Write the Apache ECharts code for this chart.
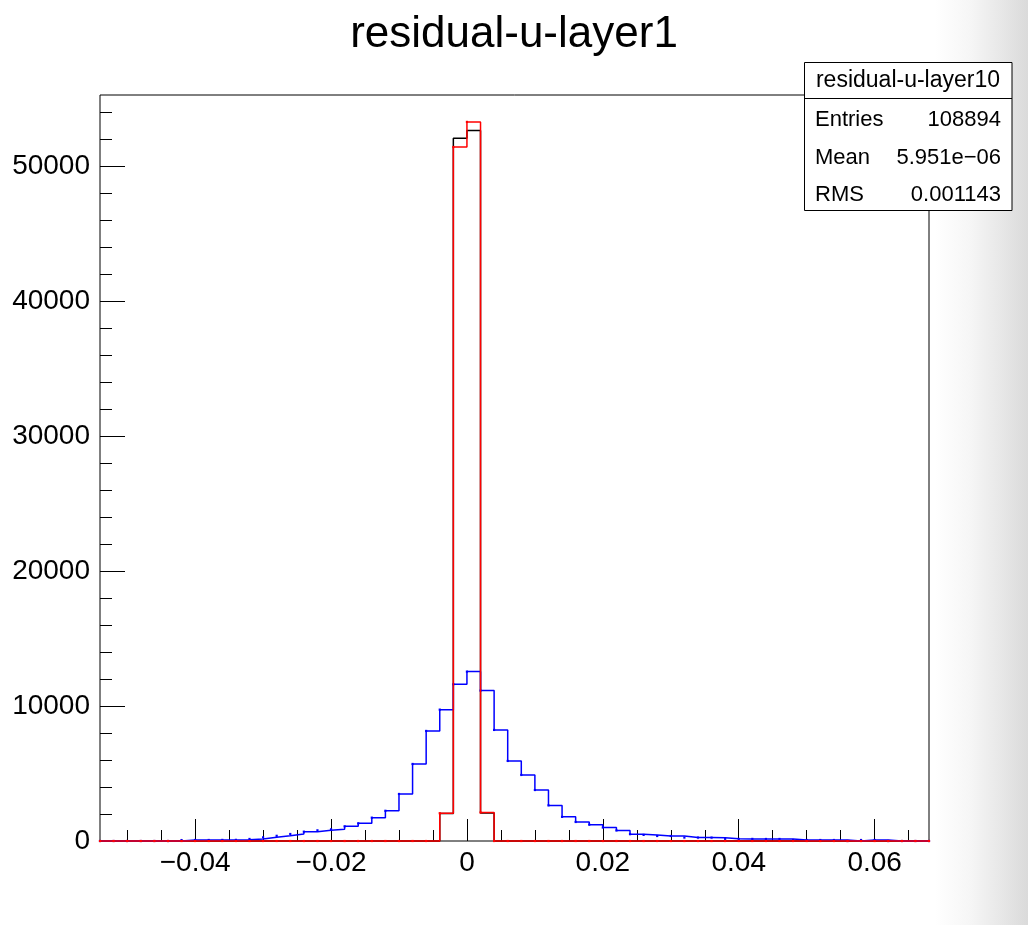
<!DOCTYPE html>
<html><head><meta charset="utf-8">
<script src="https://cdn.jsdelivr.net/npm/echarts@6/dist/echarts.min.js"></script>
<style>
html,body{margin:0;padding:0;background:#fff;overflow:hidden;}
#bg{position:absolute;left:0;top:0;width:1028px;height:925px;background:linear-gradient(to right,#fff 0px,#fff 935px,#f6f6f6 970px,#e8e8e8 1000px,#dadada 1028px);}
#c{position:absolute;left:0;top:0;width:1028px;height:925px;}
</style></head><body><div id="bg"></div><div id="c"></div>
<script>
// ---- data ----
const chartTitle = 'residual-u-layer1';
const binLow = -0.054;      // lower edge of first bin
const binWidth = 0.002;
// counts per bin, first bin starts at -0.054 (61 bins up to 0.068)
const blueCounts = [
  0, 0, 0, 0, 0, 0,
  70, 75, 75, 80, 85, 150, 270, 385, 519, 692,
  791, 865, 1088, 1311, 1730, 2240, 3487, 5712, 8160, 9740,
  11624, 12560, 11150, 8234, 5935, 4896, 3780, 2640, 1790, 1410,
  1210, 1000, 780, 505, 450, 371, 371, 255, 255, 250,
  160, 155, 155, 150, 150, 74, 74, 74, 74, 0,
  74, 74, 0, 0, 0
];
const blackCounts = [
  0, 0, 0, 0, 0, 0, 0, 0, 0, 0,
  0, 0, 0, 0, 0, 0, 0, 0, 0, 0,
  0, 0, 0, 0, 0, 2040, 52100, 52680, 2074, 0,
  0, 0, 0, 0, 0, 0, 0, 0, 0, 0,
  0, 0, 0, 0, 0, 0, 0, 0, 0, 0,
  0, 0, 0, 0, 0, 0, 0, 0, 0, 0, 0
];
const redCounts = [
  0, 0, 0, 0, 0, 0, 0, 0, 0, 0,
  0, 0, 0, 0, 0, 0, 0, 0, 0, 0,
  0, 0, 0, 0, 0, 2060, 51460, 53320, 2110, 0,
  0, 0, 0, 0, 0, 0, 0, 0, 0, 0,
  0, 0, 0, 0, 0, 0, 0, 0, 0, 0,
  0, 0, 0, 0, 0, 0, 0, 0, 0, 0, 0
];
const xMajorTicks = [-0.04, -0.02, 0, 0.02, 0.04, 0.06];
const xMinorTicks = [-0.05, -0.045, -0.035, -0.03, -0.025, -0.015, -0.01, -0.005,
  0.005, 0.01, 0.015, 0.025, 0.03, 0.035, 0.045, 0.05, 0.055, 0.065];
const yMajorTicks = [0, 10000, 20000, 30000, 40000, 50000];
const yMinorTicks = [2000, 4000, 6000, 8000, 12000, 14000, 16000, 18000, 22000, 24000,
  26000, 28000, 32000, 34000, 36000, 38000, 42000, 44000, 46000, 48000, 52000, 54000];
const statsName = 'residual-u-layer10';
const statsRows = [['Entries', '108894'], ['Mean', '5.951e\u221206'], ['RMS', '0.001143']];

// ---- build ----
const FONT = '"Liberation Sans", Arial, Helvetica, sans-serif';
const nBins = blueCounts.length;
const xMin = binLow, xMax = +(binLow + nBins * binWidth).toFixed(6);
const yMax = 1.05 * Math.max(...blackCounts);
function stepData(counts) {
  const d = [];
  for (let i = 0; i < counts.length; i++) d.push([+(binLow + i * binWidth).toFixed(6), counts[i]]);
  d.push([xMax, counts[counts.length - 1]]);
  return d;
}
function fmtX(v) {
  if (Math.abs(v) < 1e-12) return '0';
  return (v < 0 ? '\u2212' : '') + Math.abs(v).toFixed(2);
}
function fmtY(v) { return String(Math.round(v)); }
function histSeries(name, counts, color, z, dots) {
  return {
    name, type: 'line', step: 'end', data: stepData(counts),
    xAxisIndex: 0, yAxisIndex: 0, z, clip: false, animation: false,
    showSymbol: dots, showAllSymbol: true, symbol: 'rect', symbolSize: 2.2,
    itemStyle: { color }, lineStyle: { color, width: 1.5 }, emphasis: { disabled: true }
  };
}
const chart = echarts.init(document.getElementById('c'), null, { renderer: 'canvas' });
const tickStyle = { color: '#000', width: 1 };
const noLine = { show: false, onZero: false };
const option = {
  backgroundColor: 'transparent',
  animation: false,
  grid: [
    { left: 100, right: 99, top: 95, bottom: 84, show: true, borderColor: '#000', borderWidth: 1, backgroundColor: 'transparent' },
    { left: 100, right: 99, top: 95, bottom: 84 }
  ],
  xAxis: [
    { type: 'value', gridIndex: 0, min: xMin, max: xMax, position: 'bottom',
      axisLine: noLine, splitLine: { show: false },
      axisTick: { show: true, inside: true, length: 22, customValues: xMajorTicks, lineStyle: tickStyle },
      axisLabel: { customValues: xMajorTicks, formatter: fmtX, margin: 8, fontSize: 28, color: '#000', fontFamily: FONT } },
    { type: 'value', gridIndex: 1, min: xMin, max: xMax, position: 'bottom',
      axisLine: noLine, splitLine: { show: false },
      axisTick: { show: true, inside: true, length: 11, customValues: xMinorTicks, lineStyle: tickStyle },
      axisLabel: { show: false } }
  ],
  yAxis: [
    { type: 'value', gridIndex: 0, min: 0, max: yMax, position: 'left',
      axisLine: noLine, splitLine: { show: false },
      axisTick: { show: true, inside: true, length: 25, customValues: yMajorTicks, lineStyle: tickStyle },
      axisLabel: { customValues: yMajorTicks, formatter: fmtY, margin: 10, fontSize: 28, color: '#000', fontFamily: FONT } },
    { type: 'value', gridIndex: 1, min: 0, max: yMax, position: 'left',
      axisLine: noLine, splitLine: { show: false },
      axisTick: { show: true, inside: true, length: 12, customValues: yMinorTicks, lineStyle: tickStyle },
      axisLabel: { show: false } }
  ],
  series: [
    histSeries('black', blackCounts, '#000000', 2, false),
    histSeries('blue', blueCounts, '#0000ff', 3, true),
    histSeries('red', redCounts, '#ff0000', 4, true)
  ],
  graphic: [
    { type: 'text', x: 514, y: 35, z: 10,
      style: { text: chartTitle, font: '44px ' + FONT, fill: '#000', textAlign: 'center', textVerticalAlign: 'middle' } },
    { type: 'rect', z: 10, shape: { x: 804.5, y: 62.5, width: 207.5, height: 148 },
      style: { fill: '#fff', stroke: '#000', lineWidth: 1 } },
    { type: 'line', z: 11, shape: { x1: 804.5, y1: 98.5, x2: 1012, y2: 98.5 }, style: { stroke: '#000', lineWidth: 1 } },
    { type: 'text', x: 908, y: 81, z: 12,
      style: { text: statsName, font: '23px ' + FONT, fill: '#000', textAlign: 'center', textVerticalAlign: 'middle' } }
  ].concat(statsRows.flatMap((r, i) => [
    { type: 'text', x: 815, y: 120 + i * 37.5, z: 12,
      style: { text: r[0], font: '22px ' + FONT, fill: '#000', textAlign: 'left', textVerticalAlign: 'middle' } },
    { type: 'text', x: 1001, y: 120 + i * 37.5, z: 12,
      style: { text: r[1], font: '22px ' + FONT, fill: '#000', textAlign: 'right', textVerticalAlign: 'middle' } }
  ]))
};
chart.setOption(option);
</script>
</body></html>
